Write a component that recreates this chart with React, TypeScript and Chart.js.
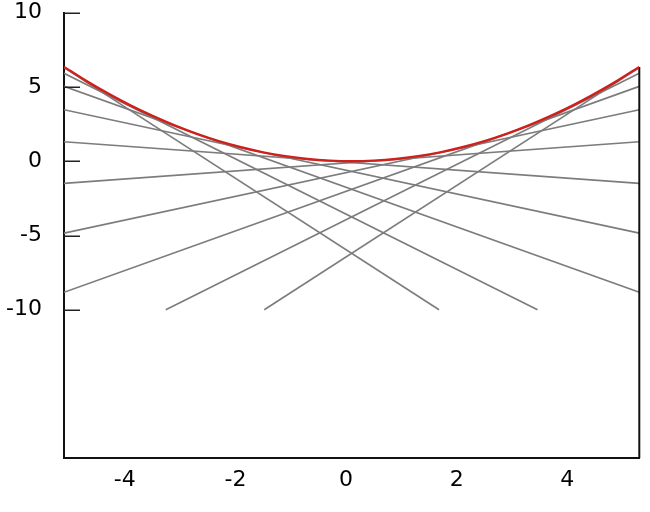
import React, { useEffect, useRef } from "react";
import { Chart, registerables } from "chart.js";

Chart.register(...registerables);

const curveX = [-5.2, -4.8, -4.4, -4.0, -3.6, -3.2, -2.8, -2.4, -2.0, -1.6, -1.2, -0.8, -0.4, 0,
  0.4, 0.8, 1.2, 1.6, 2.0, 2.4, 2.8, 3.2, 3.6, 4.0, 4.4, 4.8, 5.2];
const curveY = [6.35, 5.41, 4.55, 3.76, 3.05, 2.41, 1.84, 1.35, 0.94, 0.6, 0.34, 0.15, 0.04, 0,
  0.04, 0.15, 0.34, 0.6, 0.94, 1.35, 1.84, 2.41, 3.05, 3.76, 4.55, 5.41, 6.35];

// Tangent lines (grey): start and end points
const lineX0 = [-5.2, -5.2, -5.2, -5.2, -5.2, -5.2, -5.2, -5.2, -3.36, -1.58];
const lineY0 = [1.31, 3.47, 5.04, 5.92, 6.3, -1.49, -4.84, -8.82, -10, -10];
const lineX1 = [5.2, 5.2, 5.2, 3.36, 1.58, 5.2, 5.2, 5.2, 5.2, 5.2];
const lineY1 = [-1.49, -4.84, -8.82, -10, -10, 1.31, 3.47, 5.04, 5.92, 6.3];

// Right-hand closing edge
const edgeX = [5.2, 5.2];
const edgeY = [-20, 6.35];

const xTicks = [-4, -2, 0, 2, 4];
const yTicks = [-10, -5, 0, 5, 10];

const X_MIN = -5.2;
const X_MAX = 5.2;
const Y_MIN = -20;
const Y_MAX = 10;

const innerTicks = {
  id: "innerTicks",
  afterDatasetsDraw(chart: any) {
    const ctx = chart.ctx;
    const ys = chart.scales.y;
    const left = chart.chartArea.left;
    ctx.save();
    ctx.strokeStyle = "#222";
    ctx.lineWidth = 1.5;
    yTicks.forEach((v) => {
      const py = Math.round(ys.getPixelForValue(v)) + 0.25;
      ctx.beginPath();
      ctx.moveTo(left, py);
      ctx.lineTo(left + 16, py);
      ctx.stroke();
    });
    ctx.restore();
  },
};

export default function App() {
  const ref = useRef<HTMLCanvasElement | null>(null);

  useEffect(() => {
    if (!ref.current) return;
    const datasets: any[] = [];
    for (let i = 0; i < lineX0.length; i++) {
      datasets.push({
        data: [
          { x: lineX0[i], y: lineY0[i] },
          { x: lineX1[i], y: lineY1[i] },
        ],
        borderColor: "#7c7c7c",
        borderWidth: 1.6,
        pointRadius: 0,
        fill: false,
        order: 2,
      });
    }
    datasets.push({
      data: edgeX.map((x, i) => ({ x, y: edgeY[i] })),
      borderColor: "#111",
      borderWidth: 2,
      pointRadius: 0,
      fill: false,
      clip: false,
      order: 1,
    });
    datasets.push({
      data: curveX.map((x, i) => ({ x, y: curveY[i] })),
      borderColor: "#d0201c",
      borderWidth: 2.4,
      pointRadius: 0,
      fill: false,
      cubicInterpolationMode: "monotone",
      order: 0,
    });

    const chart = new Chart(ref.current, {
      type: "line",
      data: { datasets },
      plugins: [innerTicks],
      options: {
        animation: false,
        responsive: false,
        maintainAspectRatio: false,
        layout: { padding: { top: 12.7, right: 10.7, left: 0, bottom: 0 } },
        plugins: {
          legend: { display: false },
          tooltip: { enabled: false },
        },
        scales: {
          x: {
            type: "linear",
            min: X_MIN,
            max: X_MAX,
            afterBuildTicks: (scale: any) => {
              scale.ticks = xTicks.map((v) => ({ value: v }));
            },
            afterFit: (scale: any) => {
              scale.height = 53.7;
              scale.paddingLeft = 0;
              scale.paddingRight = 0;
            },
            grid: { display: true, drawOnChartArea: false, drawTicks: false },
            border: { display: true, color: "#111", width: 2 },
            ticks: {
              color: "#000",
              padding: 9,
              labelOffset: -5.6,
              maxRotation: 0,
              font: { family: "DejaVu Sans", size: 22 },
              callback: (v: any) => String(v),
            },
          },
          y: {
            type: "linear",
            min: Y_MIN,
            max: Y_MAX,
            afterBuildTicks: (scale: any) => {
              scale.ticks = yTicks.map((v) => ({ value: v }));
            },
            afterFit: (scale: any) => {
              scale.width = 64;
              scale.paddingTop = 0;
              scale.paddingBottom = 0;
            },
            grid: { display: true, drawOnChartArea: false, drawTicks: false },
            border: { display: true, color: "#111", width: 2 },
            ticks: {
              color: "#000",
              padding: 22,
              font: { family: "DejaVu Sans", size: 22 },
              callback: (v: any) => String(v),
            },
          },
        },
      } as any,
    });
    return () => chart.destroy();
  }, []);

  return (
    <div style={{ position: "fixed", left: 0, top: 0, width: 650, height: 512, background: "#fff" }}>
      <canvas ref={ref} width={650} height={512} style={{ width: 650, height: 512 }} />
    </div>
  );
}
